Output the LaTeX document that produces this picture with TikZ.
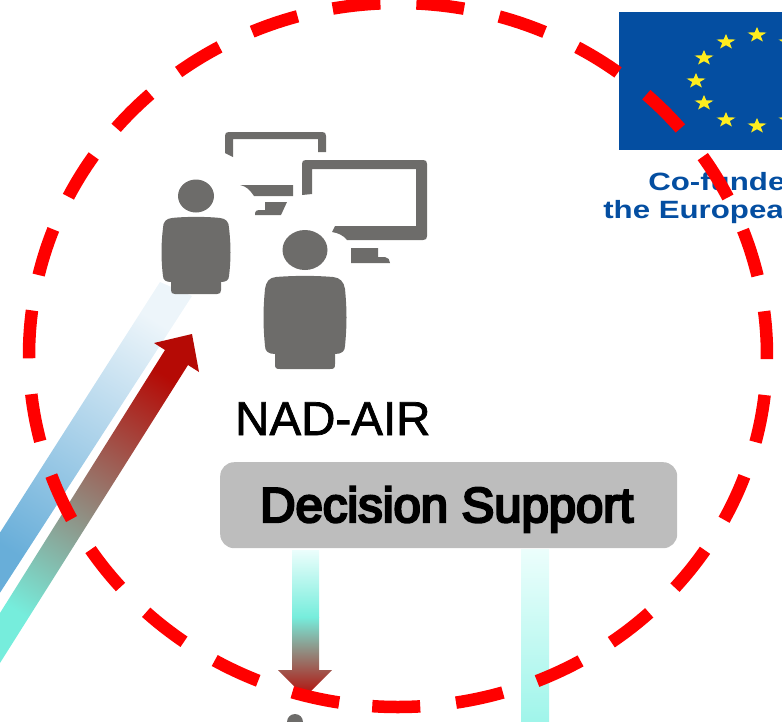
\documentclass[tikz,border=0pt]{standalone}
\usepackage{fontspec}
\setmainfont{Liberation Sans}
\newfontfamily\nadfont[FakeBold=1.5]{Liberation Sans}
\newfontfamily\dsfont[FakeBold=5]{Liberation Sans}
\usetikzlibrary{shapes.geometric}
\definecolor{figgrey}{HTML}{6D6C6A}
\definecolor{eublue}{HTML}{044EA1}
\definecolor{euyellow}{HTML}{FFED1F}
\definecolor{arrred}{HTML}{B50A05}
\definecolor{arrcyan}{HTML}{76EDDC}
\definecolor{bandlight}{HTML}{EDF5FA}
\definecolor{bandmid}{HTML}{BEDCEE}
\definecolor{bandblue}{HTML}{68AED9}
\definecolor{fadetop}{HTML}{ECFEFC}
\definecolor{fadeend}{HTML}{A0F5EA}
\definecolor{boxgrey}{HTML}{BDBDBD}
\tikzset{
  fig/.style={fill=figgrey,draw=none},
  eustar/.style={star,star points=5,star point ratio=2.5,fill=euyellow,draw=none,inner sep=0pt,minimum size=20pt,yscale=.8,transform shape},
  eutext/.style={text=eublue,font=\fontsize{25}{28}\selectfont\bfseries,anchor=base west,inner sep=0pt,xscale=1.25,transform shape},
}
\begin{document}
\begin{tikzpicture}[x=1pt,y=-1pt]
\useasboundingbox (0,0) rectangle (782,721);
% EU flag
\fill[eublue] (619,12) rectangle (782,150);
\foreach \n/\a/\b in {a/757/35,b/726/42,c/704/58,d/696/81,e/704/103,f/726/120,g/757/126,h/788/42,i/788/120}
  \node[eustar] (star\n) at (\a,\b) {};
\begin{scope}
\clip (0,0) rectangle (782,721);
\node[eutext] (eu1) at (648,190) {Co-funde};
\node[eutext] (eu2) at (603,218) {the Europea};
\end{scope}
% blue band
\shade[top color=bandlight,middle color=bandmid,bottom color=bandblue,shading angle=-32.5]
  (-6,542) -- (160,282) -- (192,296) -- (-6,602) -- cycle;
% red arrow
\shade[top color=arrred,bottom color=arrcyan,shading angle=-32.1]
  (192,334) -- (199,372) -- (188,365) -- (0,663) -- (0,613) -- (165,350) -- (154,343) -- cycle;
% down arrow
\shade[top color=fadetop,bottom color=arrcyan] (292,550) rectangle (319,617);
\shade[top color=arrcyan,bottom color=arrred] (292,617) -- (319,617) -- (319,670) -- (332,670) -- (305,697) -- (278,670) -- (292,670) -- cycle;
% right band
\shade[top color=fadetop,bottom color=fadeend] (521,549) rectangle (549,721);
% dot
\fill[figgrey] (295,722) circle (8);
% back monitor
\fill[fig] (225,153) -- (225,136) .. controls (225,133) and (226,132) .. (229,132) -- (322,132) .. controls (325,132) and (326,133) .. (326,136) -- (326,152) -- (318,152) -- (318,139) -- (233,139) -- (233,157) -- cycle;
\fill[fig] (240,185) -- (293,185) -- (293,196) -- (254,196) .. controls (250,190) and (246,186) .. (240,185) -- cycle;
\fill[fig] (265,202) -- (287,202) -- (281,215) -- (255,215) -- (255,213) .. controls (255,211) and (257,210) .. (259,210) -- (265,210) -- cycle;
% front monitor
\fill[fig] (302,195) -- (302,164) .. controls (302,161) and (303,160) .. (306,160) -- (423,160) .. controls (426,160) and (427,161) .. (427,164) -- (427,236) .. controls (427,239) and (426,240) .. (423,240) -- (347,240) .. controls (343,235) and (338,233) .. (332,232) -- (335,226) -- (416,226) -- (416,169) -- (312,169) -- (312,194) -- cycle;
\fill[fig] (351,248) -- (378,248) -- (378,257) -- (385,257) .. controls (388,257) and (390,260) .. (390,263) -- (351,263) -- cycle;
% person 1
\fill[fig] (196,196) ellipse [x radius=18,y radius=16.5];
\fill[fig] (172,218) .. controls (185,216.5) and (207,216.5) .. (220,218) .. controls (226,218.5) and (229,222) .. (229,228) .. controls (231,245) and (231,260) .. (229,276) .. controls (229,280) and (226,282) .. (221,282) -- (221,290) .. controls (221,293) and (220,294) .. (217,294) -- (175,294) .. controls (172,294) and (171,293) .. (171,290) -- (171,282) .. controls (166,282) and (163,280) .. (163,276) .. controls (161,260) and (161,245) .. (163,228) .. controls (163,222) and (166,218.5) .. (172,218) -- cycle;
% person 2
\fill[fig] (305,250) ellipse [x radius=22.5,y radius=20];
\fill[fig] (276,277) .. controls (295,275.5) and (315,275.5) .. (333,277) .. controls (340,277.5) and (344,282) .. (345,289) .. controls (347,310) and (347,325) .. (345,346) .. controls (345,351) and (342,354) .. (335,354) -- (335,364) .. controls (335,368) and (334,369) .. (330,369) -- (280,369) .. controls (276,369) and (275,368) .. (275,364) -- (275,354) .. controls (268,354) and (265,351) .. (265,346) .. controls (263,325) and (263,310) .. (265,289) .. controls (266,282) and (269,277.5) .. (276,277) -- cycle;
% labels
\node[font=\nadfont\fontsize{47.5}{50}\selectfont,inner sep=0pt,anchor=base west] (nad) at (235,435) {NAD-AIR};
\node[fill=boxgrey,rounded corners=14pt,minimum width=457pt,minimum height=86pt,inner sep=0pt,anchor=north west] (ds) at (220,462) {};
\node[font=\dsfont\fontsize{49}{52}\selectfont,inner sep=0pt,anchor=base west] (dstxt) at (260,522) {Decision Support};
% dashed ring
\draw[red,line width=12.5pt,dash pattern=on 48pt off 36pt] plot[domain=94:-266,samples=360,smooth] ({398+369*cos(\x)},{355+352*sin(\x)});
\end{tikzpicture}
\end{document}
